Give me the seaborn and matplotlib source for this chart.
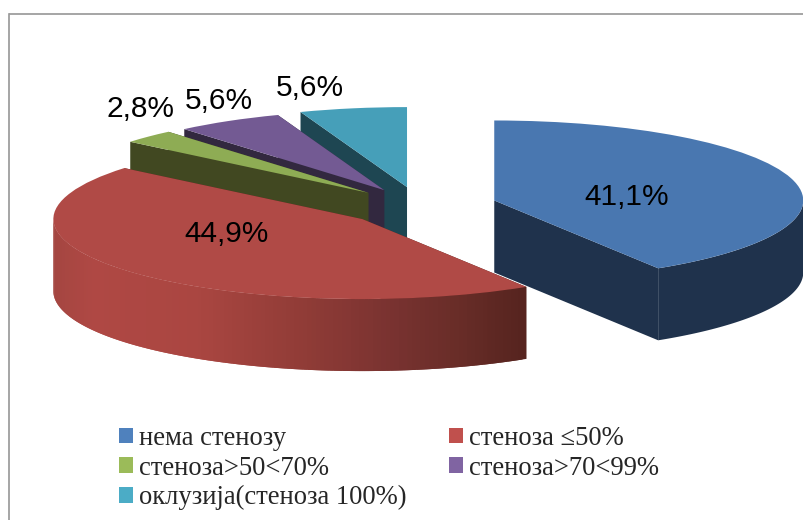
import numpy as np
import seaborn as sns
import matplotlib.pyplot as plt
from matplotlib.colors import LinearSegmentedColormap
from matplotlib.patches import Patch

# Data
categories = ['нема стенозу', 'стеноза ≤50%', 'стеноза>50<70%', 'стеноза>70<99%', 'оклузија(стеноза 100%)']
values = [41.1, 44.9, 2.8, 5.6, 5.6]

top_colors = ['#4977B0', '#B04A46', '#8EAC54', '#735A93', '#469FB9']
side_colors = ['#1F324C', None, '#414821', '#32283F', '#1E4652']
legend_colors = ['#4F81BD', '#C0504D', '#9BBB59', '#8064A2', '#4BACC6']
explode = [0.25, 0.248, 0.235, 0.23, 0.24]
draw_order = [4, 3, 2, 0, 1]

# red side goes from light on the left to dark on the right
red_side = LinearSegmentedColormap.from_list('red_side', [
    (0.0, '#A54641'), (0.08, '#AF4844'), (0.3, '#AA4641'), (0.52, '#913C37'),
    (0.72, '#783230'), (0.85, '#692D28'), (1.0, '#55231E')])

W, H = 804, 520
RX, RY = 309, 80   # pixels per data unit
CX, CY = 420, 206  # pie centre in pixels
DEPTH = 72 / RY
LEFT, TOP = 9.5, 14

sns.set_theme(style='white')
fig = plt.figure(figsize=(W / 100, H / 100), dpi=100, facecolor='white')
ax = fig.add_axes([LEFT / W, 0, 1 - LEFT / W, 1 - TOP / H])

wedges, _ = ax.pie(values, explode=explode, startangle=90, counterclock=False,
                   colors=top_colors, wedgeprops={'linewidth': 0})
ax.set_aspect('auto')
ax.set_xlim((LEFT - CX) / RX, (W - CX) / RX)
ax.set_ylim((CY - H) / RY, (CY - TOP) / RY)

# Extrude every pie wedge downwards
for z, i in enumerate(draw_order):
    w = wedges[i]
    cx, cy = w.center
    t1, t2 = np.radians(w.theta1), np.radians(w.theta2)
    w.set_zorder(2 * z + 3)

    base = side_colors[i] or '#55231E'
    for t in [t1, t2]:
        ex, ey = cx + np.cos(t), cy + np.sin(t)
        ax.fill([cx, ex, ex, cx], [cy, ey, ey - DEPTH, cy - DEPTH],
                color=base, linewidth=0, zorder=2 * z + 2)

    # outer rim, only the front half is visible
    angles = np.linspace(t1, t2, 200)
    angles = angles[np.sin(angles) <= 0]
    if len(angles) < 2:
        continue
    if side_colors[i] is not None:
        xs = np.r_[cx + np.cos(angles), cx + np.cos(angles[::-1])]
        ys = np.r_[cy + np.sin(angles), cy + np.sin(angles[::-1]) - DEPTH]
        ax.fill(xs, ys, color=base, linewidth=0, zorder=2 * z + 2)
    else:
        # thin strips, each one laps over the next so no seams show
        for a, b in zip(angles[:-1], angles[2:]):
            xs = cx + np.cos([a, b, b, a])
            ys = cy + np.sin([a, b, b, a]) - np.array([0, 0, DEPTH, DEPTH])
            color = red_side(np.clip((np.cos(a) + 1.0) / 1.53, 0, 1))
            ax.fill(xs, ys, color=color, linewidth=0, zorder=2 * z + 2)

sns.despine(ax=ax, right=True, bottom=True)
ax.set_frame_on(True)
for name in ['left', 'top']:
    ax.spines[name].set_visible(True)
    ax.spines[name].set_color('#969696')
    ax.spines[name].set_linewidth(1.2)
ax.spines['right'].set_visible(False)
ax.spines['bottom'].set_visible(False)

# Value labels
label_pos = [(627, 197), (227, 234), (140, 109), (219, 101), (310, 88)]
for v, (px, py) in zip(values, label_pos):
    fig.text(px / W, 1 - py / H, f'{v:.1f}%'.replace('.', ','), family='Liberation Sans',
             fontsize=21.5, color='black', ha='center', va='center', zorder=50)

# Legend fills row by row
order = [0, 2, 4, 1, 3]
handles = [Patch(color=legend_colors[i], linewidth=0) for i in order]
labels = [categories[i] for i in order]
leg = ax.legend(handles, labels, ncol=2, frameon=False, loc='upper left',
                bbox_to_anchor=(119 / W, 1 - 426 / H), bbox_transform=fig.transFigure,
                prop={'family': 'Liberation Serif', 'size': 19.2},
                handlelength=0.52, handleheight=0.52, handletextpad=0.22,
                columnspacing=1.6, labelspacing=0.17, borderpad=0, borderaxespad=0)
leg.set_zorder(60)

plt.savefig('out.png', dpi=100)
